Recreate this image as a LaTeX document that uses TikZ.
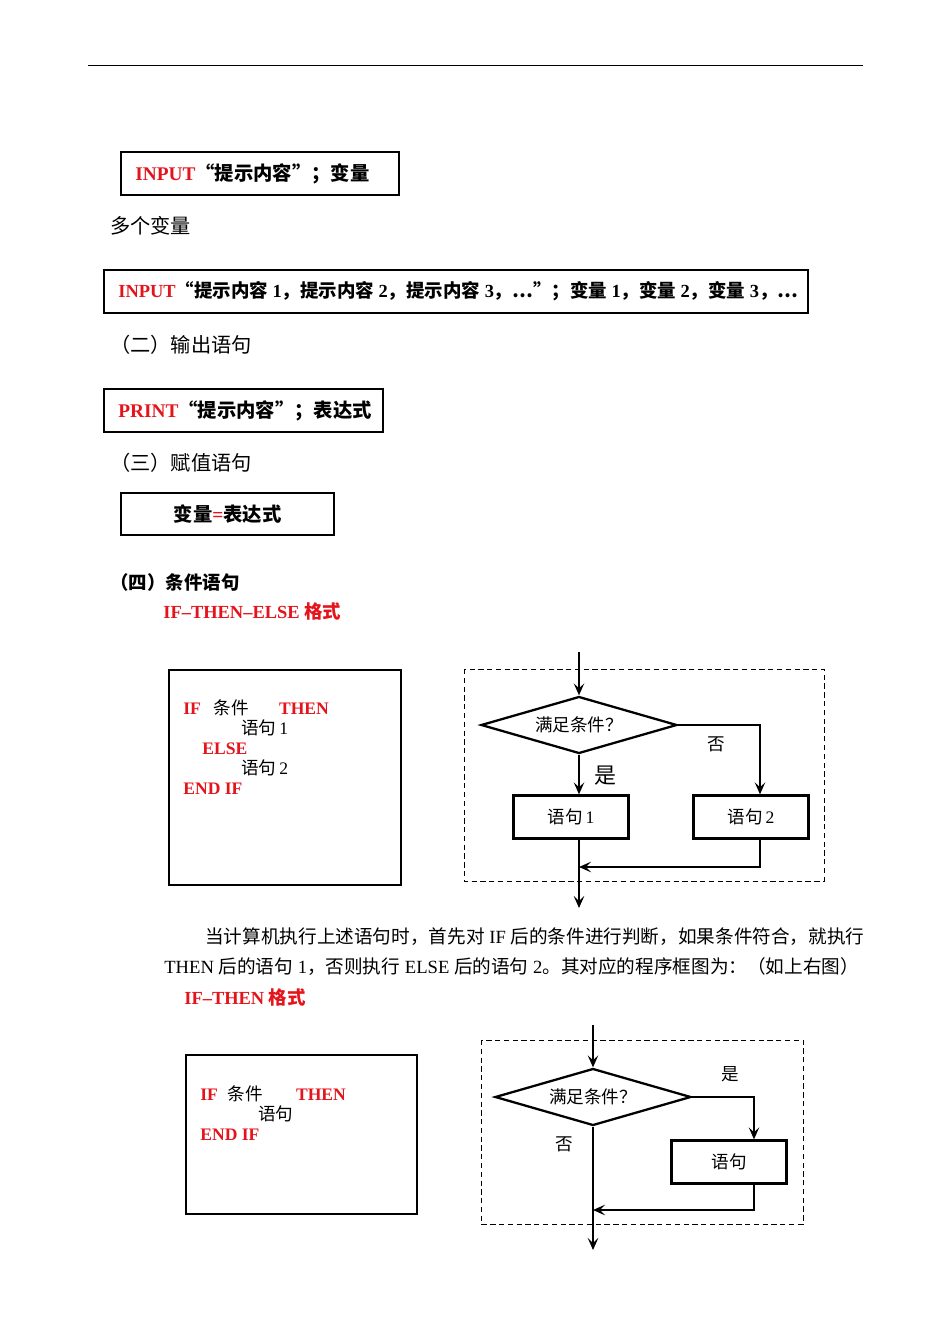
\documentclass[tikz,border=0pt]{standalone}
\usepackage{fontspec}
\setmainfont{Liberation Serif}
\newfontfamily\cjk{Noto Sans CJK SC}
\usetikzlibrary{shapes.geometric,arrows.meta,positioning}
\definecolor{kwred}{RGB}{228,20,28}
\newcommand{\zh}[1]{{\cjk #1}}
\newcommand{\kw}[1]{{\color{kwred}\bfseries #1}}

\begin{document}
\begin{tikzpicture}[
    x=0.02cm, y=-0.02cm,
    codebox/.style={rectangle, draw, line width=1.2pt, inner sep=0pt},
    boxtext/.style={anchor=west, inner sep=0pt, font=\fontsize{11}{13}\selectfont\bfseries},
    heading/.style={anchor=west, inner sep=0pt, font=\fontsize{11.5}{14}\selectfont},
    subhead/.style={anchor=west, inner sep=0pt, font=\fontsize{10.5}{13}\selectfont\bfseries},
    bodytext/.style={anchor=west, inner sep=0pt, font=\fontsize{10.6}{13}\selectfont},
    code/.style={anchor=north west, inner sep=0pt, align=left, font=\fontsize{10}{11.5}\selectfont},
    frame/.style={draw, dash pattern=on 3pt off 2pt, line width=0.5pt},
    decision/.style={diamond, draw, line width=1.3pt, inner sep=0pt, aspect=3.4, minimum width=3.92cm, minimum height=1.14cm, font=\fontsize{10}{12}\selectfont},
    stmt/.style={rectangle, draw, line width=1.3pt, minimum width=2.3cm, minimum height=0.86cm, font=\fontsize{10}{12}\selectfont},
    arrow/.style={-{Stealth[length=2.4mm, width=2.1mm, inset=1mm]}, line width=1.3pt},
    lbl/.style={inner sep=0pt, font=\fontsize{10}{12}\selectfont}
]
\useasboundingbox (0,0) rectangle (950,1342);

% Page rule
\draw[line width=0.5pt] (88,65) -- (863,65);

% Input statements
\node[codebox, anchor=north west, minimum width=5.56cm, minimum height=0.86cm] (input1) at (120,151) {};
\node[boxtext] (input1txt) at ([xshift=0.3cm]input1.west) {\kw{INPUT}\zh{“提示内容”；变量}};
\node[heading] (multi) at (110,226) {\zh{多个变量}};
\node[codebox, anchor=north west, minimum width=14.08cm, minimum height=0.86cm] (input2) at (103,269) {};
\node[boxtext, font=\fontsize{10.5}{13}\selectfont\bfseries] (input2txt) at ([xshift=0.3cm]input2.west)
    {\kw{INPUT}\zh{“提示内容} 1\zh{，提示内容} 2\zh{，提示内容} 3\zh{，⋯”；变量} 1\zh{，变量} 2\zh{，变量} 3\zh{，⋯}};

% Output statement
\node[heading] (outhead) at (110,345) {\zh{（二）输出语句}};
\node[codebox, anchor=north west, minimum width=5.58cm, minimum height=0.86cm] (print) at (103,388) {};
\node[boxtext] (printtxt) at ([xshift=0.3cm]print.west) {\kw{PRINT}\zh{“提示内容”；表达式}};

% Assignment statement
\node[heading] (assignhead) at (110,463) {\zh{（三）赋值语句}};
\node[codebox, anchor=north west, minimum width=4.26cm, minimum height=0.84cm, font=\fontsize{11}{13}\selectfont\bfseries]
    (assign) at (120,492) {\zh{变量}{\color{kwred}=}\zh{表达式}};

% Conditional statement
\node[subhead] (condhead) at (110,582) {\zh{（四）条件语句}};
\node[subhead, text=kwred] (ifelsehead) at (163,611) {IF--THEN--ELSE \zh{格式}};

% IF-THEN-ELSE code
\node[codebox, anchor=north west, minimum width=4.64cm, minimum height=4.3cm] (code1) at (168,669) {};
\node[code] (code1txt) at (183,699) {\kw{IF}\hspace{0.26cm}\zh{条件}\hspace{0.6cm}\kw{THEN}\\
    \hspace*{1.16cm}\zh{语句}\,1\\
    \hspace*{0.38cm}\kw{ELSE}\\
    \hspace*{1.16cm}\zh{语句}\,2\\
    \kw{END IF}};

% IF-THEN-ELSE flowchart
\draw[frame] (464,669) rectangle (824,881);
\node[decision] (cond1) at (579,725) {\zh{满足条件？}};
\node[stmt] (yes1) at (571,817) {\zh{语句}\,1};
\node[stmt] (no1) at (751,817) {\zh{语句}\,2};
\coordinate (in1) at (579,652);
\coordinate (merge1) at (579,867);
\coordinate (out1) at (579,908);
\node[lbl, font=\fontsize{12.5}{14}\selectfont] (yeslbl1) at (605,776) {\zh{是}};
\node[lbl] (nolbl1) at (716,744) {\zh{否}};

\draw[arrow] (in1) -- (cond1.north);
\draw[arrow] (cond1.south) -- (cond1.south |- yes1.north);
\draw[arrow] (cond1.east) -| ([xshift=0.18cm]no1.north);
\draw[arrow] ([xshift=0.18cm]no1.south) |- (merge1);
\draw[arrow] (cond1.south |- yes1.south) -- (out1);

% Explanation
\node[bodytext] (para1) at (205,937) {\zh{当计算机执行上述语句时，首先对} IF \zh{后的条件进行判断，如果条件符合，就执行}};
\node[bodytext] (para2) at (164,967) {THEN \zh{后的语句} 1\zh{，否则执行} ELSE \zh{后的语句} 2\zh{。其对应的程序框图为：（如上右图）}};
\node[subhead, text=kwred] (ifhead) at (184,997) {IF--THEN \zh{格式}};

% IF-THEN code
\node[codebox, anchor=north west, minimum width=4.62cm, minimum height=3.18cm] (code2) at (185,1054) {};
\node[code] (code2txt) at (200,1085) {\kw{IF}\hspace{0.2cm}\zh{条件}\hspace{0.66cm}\kw{THEN}\\
    \hspace*{1.16cm}\zh{语句}\\
    \kw{END IF}};

% IF-THEN flowchart
\draw[frame] (481,1040) rectangle (803,1224);
\node[decision] (cond2) at (593,1097) {\zh{满足条件？}};
\node[stmt] (yes2) at (729,1162) {\zh{语句}};
\coordinate (in2) at (593,1025);
\coordinate (merge2) at (593,1210);
\coordinate (out2) at (593,1250);
\node[lbl] (yeslbl2) at (730,1074) {\zh{是}};
\node[lbl] (nolbl2) at (564,1144) {\zh{否}};

\draw[arrow] (in2) -- (cond2.north);
\draw[arrow] (cond2.east) -| ([xshift=0.5cm]yes2.north);
\draw[arrow] ([xshift=0.5cm]yes2.south) |- (merge2);
\draw[arrow] (cond2.south) -- (out2);

\end{tikzpicture}
\end{document}
